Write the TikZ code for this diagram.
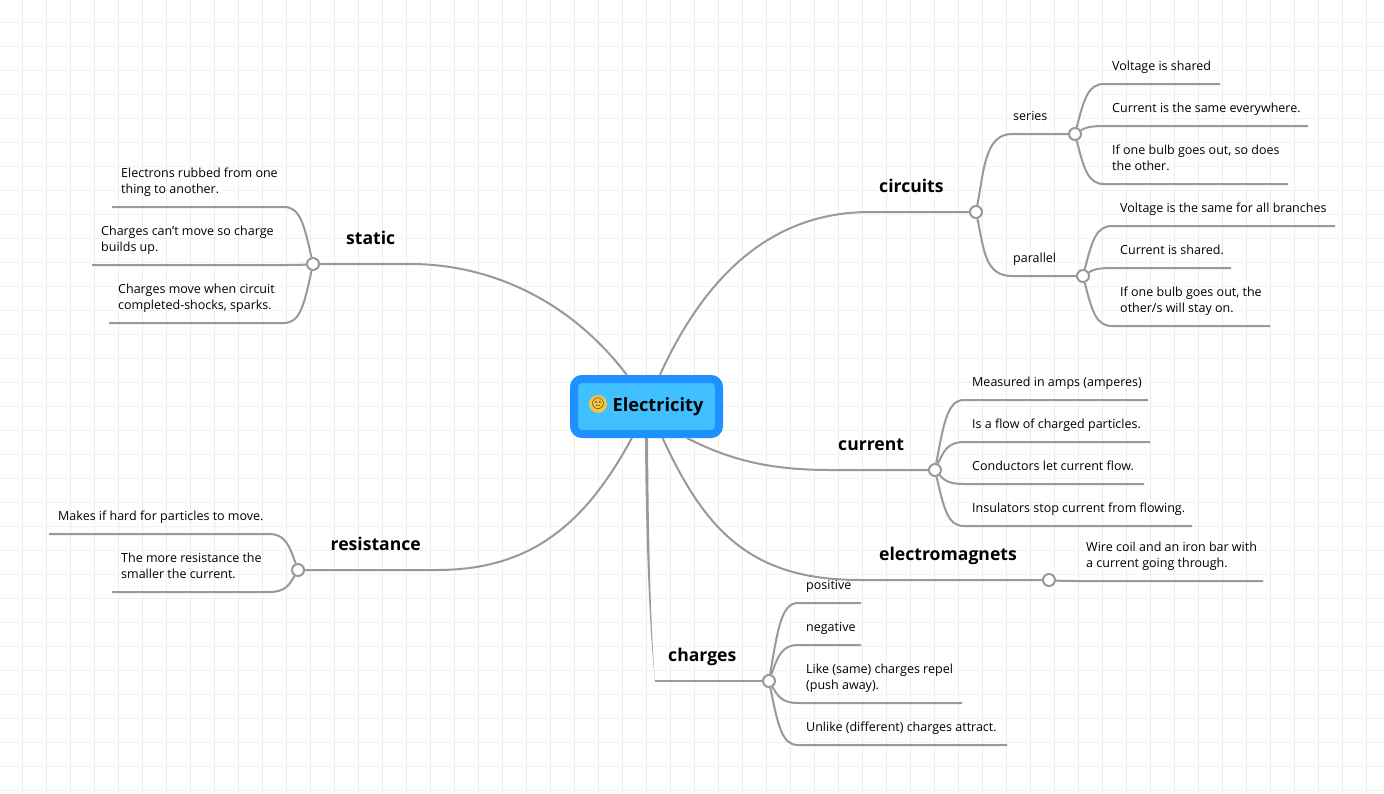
\documentclass[tikz,border=0pt]{standalone}
\usepackage{fontspec}
\usepackage{tikz}
\usepackage{xcolor}
\usetikzlibrary{calc}
\setmainfont{Open Sans}
\newfontfamily\emojifont{Noto Emoji}
\definecolor{twiggray}{HTML}{999996}
\definecolor{gridv}{HTML}{E9F2DF}
\definecolor{gridh}{HTML}{F0F7E8}
\definecolor{rootedge}{HTML}{1E90FF}
\definecolor{rootfill}{HTML}{40C0FF}
\definecolor{facefill}{HTML}{F6C445}
\tikzset{
  twig/.style={draw=twiggray,line width=2pt},
  hub/.style={circle,draw=twiggray,fill=white,line width=2pt,inner sep=0pt,minimum size=12pt},
  rootbox/.style={rectangle,rounded corners=8pt,draw=rootedge,fill=rootfill,line width=8pt,minimum width=145pt,minimum height=55pt,inner sep=0pt,font=\fontsize{18.2}{22}\selectfont\bfseries},
  topic/.style={anchor=base west,inner sep=0pt,font=\fontsize{17.6}{20}\selectfont\bfseries},
  leaf/.style={anchor=north west,inner sep=0pt,align=left,font=\fontsize{12.5}{16}\selectfont,execute at begin node=\strut,execute at end node=\strut},
}
\begin{document}
\begin{tikzpicture}[x=1pt,y=-1pt]
  \useasboundingbox (0,0) rectangle (1384,793);
  \fill[white] (0,0) rectangle (1384,793);
  \foreach \Y in {0,...,32}
    \draw[gridh,line width=1.2pt] (0,22.5+24*\Y) -- (1384,22.5+24*\Y);
  \foreach \X in {0,...,56}
    \draw[gridv,line width=1.2pt] (22.5+24*\X,0) -- (22.5+24*\X,793);

  \node[rootbox] (root) at (646.5,406.5) {\hspace{23pt}\raisebox{-1pt}{Electricity}};
  \node[circle,fill=facefill,inner sep=0pt,minimum size=17pt,font=\fontsize{11}{11}\emojifont] (face) at (598,404) {🙂};

  \node[hub] (circuits) at (976,212) {};
  \node[hub] (series) at (1075,134) {};
  \node[hub] (parallel) at (1083,276) {};
  \node[hub] (current) at (935,470) {};
  \node[hub] (magnets) at (1049,580) {};
  \node[hub] (charges) at (769,681) {};
  \node[hub] (static) at (313,264) {};
  \node[hub] (resistance) at (298,570) {};

  \node[topic] (circuitslabel) at (879,192) {circuits};
  \node[topic] (staticlabel) at (346,244) {static};
  \node[topic] (currentlabel) at (838,450) {current};
  \node[topic] (magnetslabel) at (879,560) {electromagnets};
  \node[topic] (chargeslabel) at (668,661) {charges};
  \node[topic] (resistancelabel) at (330.5,550) {resistance};

  % branches out of the root
  \draw[twig] (root.122) .. controls (570,300) and (490,264) .. (410,264) -- (static);
  \draw[twig] (root.67) .. controls (710,265) and (780,212) .. (870,212) -- (circuits);
  \draw[twig] (root.-38) .. controls (730,460) and (770,470) .. (830,470) -- (current);
  \draw[twig] (root.-63) .. controls (705,530) and (750,580) .. (860,580) -- (magnets);
  \draw[twig] (root.-115) .. controls (585,525) and (530,570) .. (437,570) -- (resistance);
  \coordinate (chargesturn) at (655,681);
  \fill[twiggray] ($(root.-90)+(-1.5,0)$) .. controls (645.5,520) and (648.5,620) .. (chargesturn) .. controls (650,620) and (648.5,520) .. ($(root.-90)+(1.5,0)$) -- cycle;
  \draw[twig] (chargesturn) -- (charges);

  \coordinate (seriesturn) at (1012,134);
  \coordinate (parallelturn) at (1012,276);
  \draw[twig] (circuits) .. controls (984,170) and (985,134) .. (seriesturn) -- (series);
  \draw[twig] (circuits) .. controls (984,250) and (985,276) .. (parallelturn) -- (parallel);

  \foreach \Hub/\Leaf/\Sgn/\Dy/\Len in {
      series/a/1/-50/145, series/b/1/-8/233, series/c/1/50/213,
      parallel/d/1/-50/252, parallel/e/1/-8/148, parallel/f/1/50/187,
      current/g/1/-70/213, current/h/1/-28/215, current/i/1/14/209, current/j/1/56/257,
      magnets/k/1/1/214,
      charges/l/1/-78/92, charges/m/1/-36/92, charges/n/1/22/193, charges/o/1/64/238,
      static/p/-1/-57/-201, static/q/-1/1/-221, static/r/-1/59/-204,
      resistance/s/-1/-36/-249, resistance/t/-1/22/-186}
    {
    \coordinate (\Leaf) at ($(\Hub)+(\Len,\Dy)$);
    \draw[twig] (\Hub) .. controls ($(\Hub)+(\Sgn*9,\Dy*.7)$) and ($(\Hub)+(\Sgn*13,\Dy)$) .. ($(\Hub)+(\Sgn*29,\Dy)$) -- (\Leaf);
    }

  \foreach \Name/\Xtext/\Ytext/\Text in {
      tseries/1013/109/{series}, tparallel/1013/251/{parallel},
      ta/1112/59/{Voltage is shared}, tb/1112/101/{Current is the same everywhere.},
      tc/1112/145/{If one bulb goes out, so does\\the other.},
      td/1120/201/{Voltage is the same for all branches}, te/1120/243/{Current is shared.},
      tf/1120/287/{If one bulb goes out, the\\other/s will stay on.},
      tg/972/375/{Measured in amps (amperes)}, th/972/417/{Is a flow of charged particles.},
      ti/972/459/{Conductors let current flow.}, tj/972/501/{Insulators stop current from flowing.},
      tk/1086/542/{Wire coil and an iron bar with\\a current going through.},
      tl/806/578/{positive}, tm/806/620/{negative},
      tn/806/664/{Like (same) charges repel\\(push away).}, to/806/720/{Unlike (different) charges attract.},
      tp/121/168/{Electrons rubbed from one\\thing to another.},
      tq/101/226/{Charges can{\char39}t move so charge\\builds up.},
      tr/118/284/{Charges move when circuit\\completed-shocks, sparks.},
      ts/58/509/{Makes if hard for particles to move.},
      tt/121/553/{The more resistance the\\smaller the current.}}
    \node[leaf] (\Name) at (\Xtext,\Ytext) {\Text};
\end{tikzpicture}
\end{document}
